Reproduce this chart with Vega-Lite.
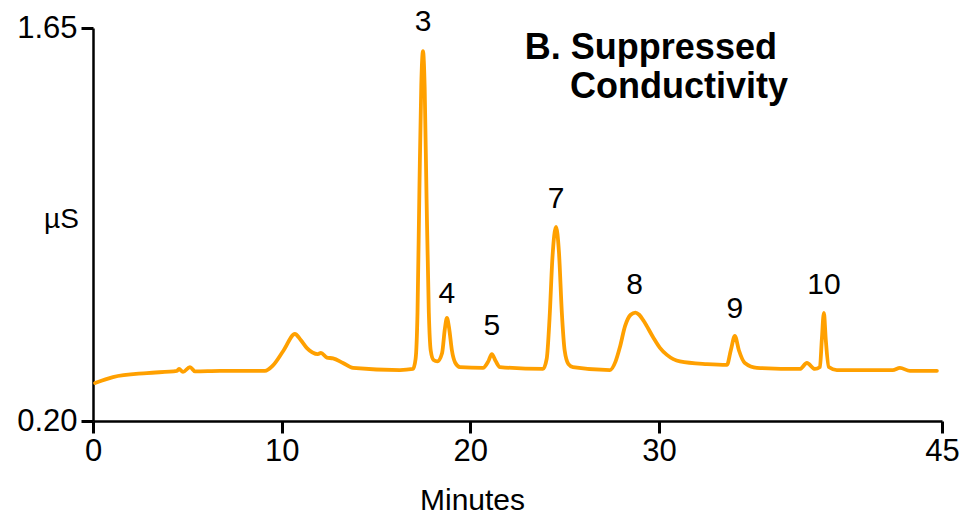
{
  "$schema": "https://vega.github.io/schema/vega-lite/v6.json",
  "width": 849,
  "height": 393,
  "autosize": "none",
  "padding": {"left": 93, "top": 28, "right": 20, "bottom": 93},
  "background": "white",
  "config": {
    "view": {"stroke": null},
    "font": "Liberation Sans",
    "axis": {"grid": false, "domainColor": "black", "tickColor": "black", "labelColor": "black", "titleColor": "black", "labelFont": "Liberation Sans", "titleFont": "Liberation Sans", "titleFontWeight": "normal"}
  },
  "datasets": {
    "trace": [
      {"min": 0.11, "us": 0.340}, {"min": 1.06, "us": 0.362}, {"min": 2.86, "us": 0.377}, {"min": 4.45, "us": 0.385},
      {"min": 4.56, "us": 0.392}, {"min": 4.77, "us": 0.381}, {"min": 5.14, "us": 0.399}, {"min": 5.41, "us": 0.383},
      {"min": 6.73, "us": 0.385}, {"min": 9.11, "us": 0.385}, {"min": 9.54, "us": 0.405}, {"min": 10.1, "us": 0.46},
      {"min": 10.70, "us": 0.521}, {"min": 11.0, "us": 0.50}, {"min": 11.34, "us": 0.469}, {"min": 11.92, "us": 0.447},
      {"min": 12.08, "us": 0.451}, {"min": 12.40, "us": 0.434}, {"min": 12.72, "us": 0.431}, {"min": 13.25, "us": 0.414},
      {"min": 13.78, "us": 0.396}, {"min": 16.27, "us": 0.388}, {"min": 16.96, "us": 0.392}, {"min": 17.1, "us": 0.43},
      {"min": 17.2, "us": 0.60}, {"min": 17.3, "us": 1.05}, {"min": 17.4, "us": 1.44}, {"min": 17.49, "us": 1.565},
      {"min": 17.58, "us": 1.43}, {"min": 17.68, "us": 1.02}, {"min": 17.8, "us": 0.60}, {"min": 17.9, "us": 0.46},
      {"min": 18.05, "us": 0.425}, {"min": 18.25, "us": 0.420}, {"min": 18.5, "us": 0.45}, {"min": 18.65, "us": 0.54},
      {"min": 18.76, "us": 0.580}, {"min": 18.88, "us": 0.54}, {"min": 19.02, "us": 0.462}, {"min": 19.2, "us": 0.415},
      {"min": 19.45, "us": 0.399}, {"min": 20.67, "us": 0.396}, {"min": 20.95, "us": 0.42}, {"min": 21.14, "us": 0.447},
      {"min": 21.35, "us": 0.42}, {"min": 21.57, "us": 0.399}, {"min": 23.85, "us": 0.392}, {"min": 24.05, "us": 0.43},
      {"min": 24.2, "us": 0.58}, {"min": 24.35, "us": 0.80}, {"min": 24.54, "us": 0.916}, {"min": 24.7, "us": 0.82},
      {"min": 24.85, "us": 0.60}, {"min": 25.0, "us": 0.46}, {"min": 25.2, "us": 0.41}, {"min": 25.44, "us": 0.399},
      {"min": 27.40, "us": 0.388}, {"min": 27.7, "us": 0.42}, {"min": 27.93, "us": 0.473}, {"min": 28.2, "us": 0.55},
      {"min": 28.5, "us": 0.592}, {"min": 28.75, "us": 0.600}, {"min": 28.95, "us": 0.592}, {"min": 29.2, "us": 0.568},
      {"min": 29.68, "us": 0.510}, {"min": 30.05, "us": 0.47}, {"min": 30.42, "us": 0.444}, {"min": 31.11, "us": 0.420},
      {"min": 32.54, "us": 0.410}, {"min": 33.60, "us": 0.407}, {"min": 33.81, "us": 0.462}, {"min": 34.02, "us": 0.514},
      {"min": 34.23, "us": 0.462}, {"min": 34.55, "us": 0.414}, {"min": 35.19, "us": 0.396}, {"min": 37.47, "us": 0.392},
      {"min": 37.84, "us": 0.414}, {"min": 38.26, "us": 0.392}, {"min": 38.53, "us": 0.399}, {"min": 38.63, "us": 0.50},
      {"min": 38.74, "us": 0.599}, {"min": 38.84, "us": 0.50}, {"min": 39.0, "us": 0.399}, {"min": 39.43, "us": 0.388},
      {"min": 42.39, "us": 0.388}, {"min": 42.77, "us": 0.396}, {"min": 43.30, "us": 0.385}, {"min": 44.73, "us": 0.385}
    ],
    "peaks": [
      {"min": 17.49, "us": 1.64, "label": "3"},
      {"min": 18.76, "us": 0.635, "label": "4"},
      {"min": 21.14, "us": 0.517, "label": "5"},
      {"min": 24.54, "us": 0.986, "label": "7"},
      {"min": 28.7, "us": 0.669, "label": "8"},
      {"min": 34.02, "us": 0.580, "label": "9"},
      {"min": 38.74, "us": 0.669, "label": "10"}
    ],
    "heading": [
      {"min": 22.89, "us": 1.535, "label": "B. Suppressed"},
      {"min": 25.28, "us": 1.390, "label": "Conductivity"}
    ]
  },
  "encoding": {
    "x": {"field": "min", "type": "quantitative", "scale": {"domain": [0, 45], "nice": false, "zero": false}},
    "y": {"field": "us", "type": "quantitative", "scale": {"domain": [0.2, 1.65], "nice": false, "zero": false}}
  },
  "layer": [
    {
      "data": {"name": "trace"},
      "mark": {"type": "line", "color": "#FFA000", "strokeWidth": 3.8, "interpolate": "monotone", "strokeJoin": "round", "strokeCap": "round", "clip": true},
      "encoding": {
        "x": {"field": "min", "type": "quantitative", "scale": {"domain": [0, 45], "nice": false, "zero": false},
          "axis": {"values": [0, 10, 20, 30, 45], "title": "Minutes", "tickSize": 12, "tickWidth": 3, "domainWidth": 2.5, "labelFontSize": 31, "labelPadding": 3, "titleFontSize": 30, "titleAlign": "center", "titleBaseline": "alphabetic", "titleX": 379, "titleY": 88, "labelFlush": false}},
        "y": {"field": "us", "type": "quantitative", "scale": {"domain": [0.2, 1.65], "nice": false, "zero": false},
          "axis": {"values": [0.2, 1.65], "format": ".2f", "title": "µS", "tickSize": 12, "tickWidth": 3, "domainWidth": 2.5, "labelFontSize": 31, "labelPadding": 4, "titleFontSize": 28, "titleAngle": 0, "titleAlign": "center", "titleBaseline": "alphabetic", "titleX": -32, "titleY": 199, "labelFlush": false}}
      }
    },
    {
      "data": {"name": "peaks"},
      "mark": {"type": "text", "fontSize": 30, "align": "center", "baseline": "alphabetic", "color": "black"},
      "encoding": {"text": {"field": "label"}}
    },
    {
      "data": {"name": "heading"},
      "mark": {"type": "text", "fontSize": 36, "fontWeight": "bold", "align": "left", "baseline": "alphabetic", "color": "black"},
      "encoding": {"text": {"field": "label"}}
    }
  ]
}
